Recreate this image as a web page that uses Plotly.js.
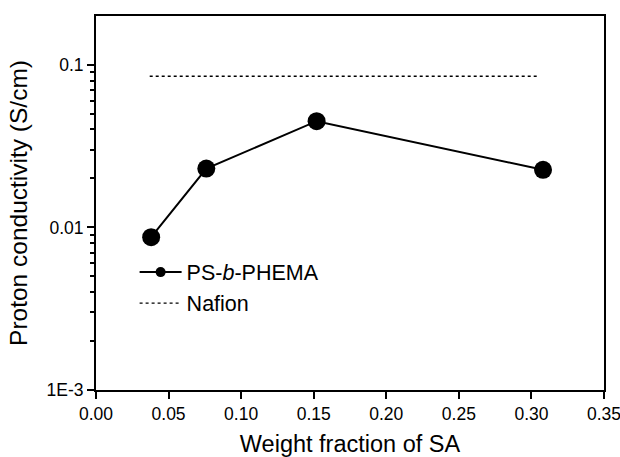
<!DOCTYPE html>
<html><head><meta charset="utf-8">
<script src="https://cdn.plot.ly/plotly-3.0.1.min.js"></script>
<style>html,body{margin:0;padding:0;background:#fff}</style>
</head><body><div id="chart" style="width:620px;height:457px"></div>
<script>
const weightFraction = [0.038, 0.076, 0.152, 0.308];
const conductivity = [0.0087, 0.0230, 0.0450, 0.0226];
const nafionX = [0.037, 0.305];
const nafionY = [0.085, 0.085];
const yTickVals = [0.001, 0.01, 0.1];
const yTickText = ['1E-3', '0.01', '0.1'];
const seriesNames = ['PS-<i>b</i>-PHEMA', 'Nafion'];

const traces = [
  {x: weightFraction, y: conductivity, mode: 'lines+markers', name: seriesNames[0], showlegend: false,
   line: {color: '#000', width: 2}, marker: {color: '#000', size: 18}},
  {x: nafionX, y: nafionY, mode: 'lines', name: seriesNames[1], showlegend: false,
   line: {color: '#000', width: 1.3, dash: 'dot'}},
  // legend-only entries (smaller legend marker, as in the reference)
  {x: [null], y: [null], mode: 'lines+markers', name: seriesNames[0],
   line: {color: '#000', width: 2}, marker: {color: '#000', size: 10}},
  {x: [null], y: [null], mode: 'lines', name: seriesNames[1],
   line: {color: '#000', width: 1.3, dash: 'dot'}}
];
const fam = 'Liberation Sans, Arial, sans-serif';
const layout = {
  width: 620, height: 457,
  margin: {l: 96, r: 16, t: 16, b: 67},
  paper_bgcolor: '#fff', plot_bgcolor: '#fff',
  font: {family: fam, color: '#000'},
  showlegend: true,
  legend: {x: 0.076, y: 0.37, xanchor: 'left', yanchor: 'top', bgcolor: 'rgba(0,0,0,0)',
    font: {family: fam, size: 21.5, color: '#000'}, tracegroupgap: 0, itemwidth: 42},
  xaxis: {range: [0, 0.35], dtick: 0.05, tickformat: '.2f', showgrid: false, zeroline: false,
    showline: true, linewidth: 2, linecolor: '#000', mirror: true,
    ticks: 'outside', ticklen: 7, tickwidth: 2, tickcolor: '#000', ticklabeloverflow: 'allow',
    tickfont: {size: 17.5, family: fam},
    title: {text: 'Weight fraction of SA', font: {size: 23.5, family: fam}, standoff: 14}},
  yaxis: {type: 'log', range: [-3, -0.7], tickmode: 'array', tickvals: yTickVals, ticktext: yTickText,
    showgrid: false, zeroline: false,
    showline: true, linewidth: 2, linecolor: '#000', mirror: true,
    ticks: 'outside', ticklen: 7, tickwidth: 2, tickcolor: '#000',
    tickfont: {size: 17.5, family: fam},
    minor: {ticks: 'outside', ticklen: 4, tickwidth: 1.5, tickcolor: '#000', dtick: 'D1', showgrid: false},
    title: {text: 'Proton conductivity (S/cm)', font: {size: 24.5, family: fam}, standoff: 12}}
};
Plotly.newPlot('chart', traces, layout, {displayModeBar: false});
</script></body></html>
